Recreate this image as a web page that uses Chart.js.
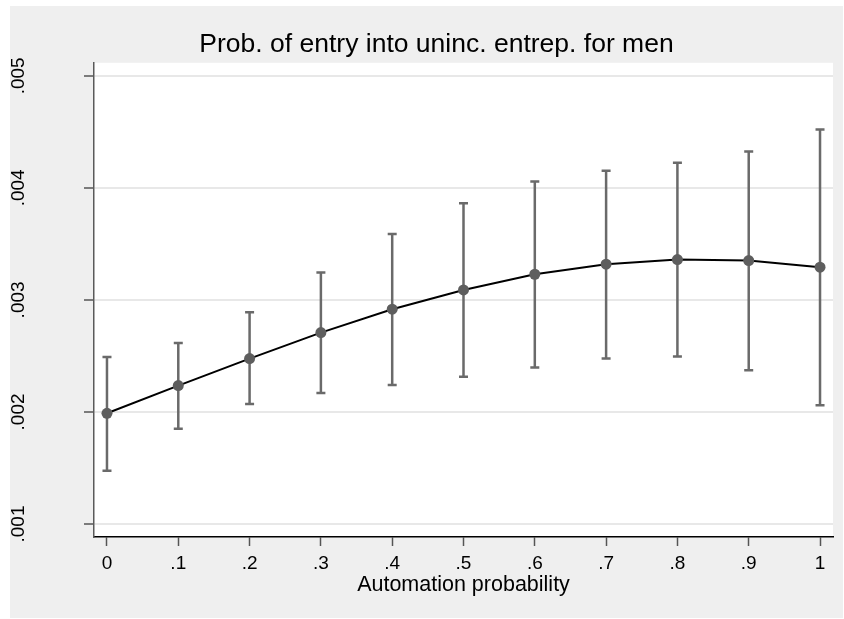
<!DOCTYPE html>
<html>
<head>
<meta charset="utf-8">
<script src="https://cdn.jsdelivr.net/npm/chart.js@4.4.1/dist/chart.umd.min.js"></script>
<style>
  body { margin: 0; background: #fff; }
  #bg { position: absolute; left: 10px; top: 6px; width: 833px; height: 612px; background: #efefef; }
  #chart { position: absolute; left: 0; top: 0; }
</style>
</head>
<body>
<div id="bg"></div>
<canvas id="chart" width="844" height="619"></canvas>
<script>
const xValues = [0, 0.1, 0.2, 0.3, 0.4, 0.5, 0.6, 0.7, 0.8, 0.9, 1];
const margins = [0.001988, 0.002235, 0.002476, 0.002708, 0.002917, 0.003089, 0.003229, 0.003319, 0.003360, 0.003351, 0.003292];
const ciUpper = [0.002491, 0.002616, 0.002890, 0.003244, 0.003589, 0.003863, 0.004057, 0.004152, 0.004223, 0.004324, 0.004521];
const ciLower = [0.001476, 0.001851, 0.002071, 0.002170, 0.002241, 0.002315, 0.002396, 0.002476, 0.002494, 0.002372, 0.002060];
const xTickLabels = ['0', '.1', '.2', '.3', '.4', '.5', '.6', '.7', '.8', '.9', '1'];
const yTicks = [0.001, 0.002, 0.003, 0.004, 0.005];
const yTickLabels = ['.001', '.002', '.003', '.004', '.005'];

const FONT = "'Liberation Sans', Arial, Helvetica, sans-serif";

// white plot region + error bars behind the line
const plotStuff = {
    id: 'plotStuff',
    beforeDraw(chart) {
        const a = chart.chartArea;
        const ctx = chart.ctx;
        ctx.save();
        ctx.fillStyle = '#ffffff';
        ctx.fillRect(a.left, a.top, a.right - a.left, a.bottom - a.top);
        ctx.restore();
    },
    beforeDatasetsDraw(chart) {
        const ctx = chart.ctx;
        const xs = chart.scales.x, ys = chart.scales.y;
        ctx.save();
        ctx.strokeStyle = '#6a6a6a';
        ctx.lineWidth = 2.5;
        for (let i = 0; i < xValues.length; i++) {
            const px = xs.getPixelForValue(xValues[i]);
            const top = ys.getPixelForValue(ciUpper[i]);
            const bot = ys.getPixelForValue(ciLower[i]);
            ctx.beginPath();
            ctx.moveTo(px, top); ctx.lineTo(px, bot);
            ctx.moveTo(px - 4.5, top); ctx.lineTo(px + 4.5, top);
            ctx.moveTo(px - 4.5, bot); ctx.lineTo(px + 4.5, bot);
            ctx.stroke();
        }
        ctx.restore();
    },
    afterDraw(chart) {
        // rotated y tick labels
        const ctx = chart.ctx;
        const ys = chart.scales.y;
        ctx.save();
        ctx.fillStyle = '#000';
        ctx.font = '19px ' + FONT;
        ctx.textAlign = 'center';
        ctx.textBaseline = 'middle';
        ys.ticks.forEach((t, i) => {
            const py = ys.getPixelForValue(t.value);
            ctx.save();
            ctx.translate(19, py);
            ctx.rotate(-Math.PI / 2);
            ctx.fillText(yTickLabels[i], 0, 0);
            ctx.restore();
        });
        ctx.restore();
    }
};

const data = {
    datasets: [{
        label: 'Margins',
        data: xValues.map((x, i) => ({ x: x, y: margins[i] })),
        borderColor: '#000',
        borderWidth: 2,
        tension: 0,
        pointRadius: 5.5,
        pointBackgroundColor: '#5e5e5e',
        pointBorderWidth: 0,
        fill: false
    }]
};

const config = {
    type: 'line',
    data: data,
    plugins: [plotStuff],
    options: {
        responsive: false,
        animation: false,
        layout: { padding: { left: 40, right: 11, top: 0, bottom: 1 } },
        plugins: {
            legend: { display: false },
            tooltip: { enabled: false },
            title: {
                display: true,
                text: 'Prob. of entry into uninc. entrep. for men',
                color: '#000',
                font: { family: FONT, size: 26.5, weight: 'normal' },
                padding: { top: 29, bottom: 2 }
            }
        },
        scales: {
            x: {
                type: 'linear',
                min: -0.0182,
                max: 1.0182,
                afterBuildTicks: s => { s.ticks = xValues.map(v => ({ value: v })); },
                afterFit: s => { s.height = 81; },
                ticks: {
                    color: '#000',
                    font: { family: FONT, size: 19 },
                    padding: 6,
                    maxRotation: 0,
                    autoSkip: false,
                    callback: (v, i) => xTickLabels[i]
                },
                grid: { drawOnChartArea: false, drawTicks: true, tickLength: 9, tickColor: '#555', tickWidth: 1.5 },
                border: { color: '#000', width: 1.5 },
                title: {
                    display: true,
                    text: 'Automation probability',
                    color: '#000',
                    font: { family: FONT, size: 21.5 },
                    padding: { top: 0, bottom: 20 }
                }
            },
            y: {
                type: 'linear',
                min: 0.000884,
                max: 0.0051161,
                afterBuildTicks: s => { s.ticks = yTicks.map(v => ({ value: v })); },
                afterFit: s => { s.width = 54; },
                ticks: { display: false },
                grid: { color: '#e8e8e8', lineWidth: 2, tickLength: 10, tickColor: '#555', tickWidth: 1.5 },
                border: { color: '#5a5a5a', width: 1.5 }
            }
        }
    }
};

const canvas = document.getElementById('chart').getContext('2d');
let chart = new Chart(canvas, config);
</script>
</body>
</html>
